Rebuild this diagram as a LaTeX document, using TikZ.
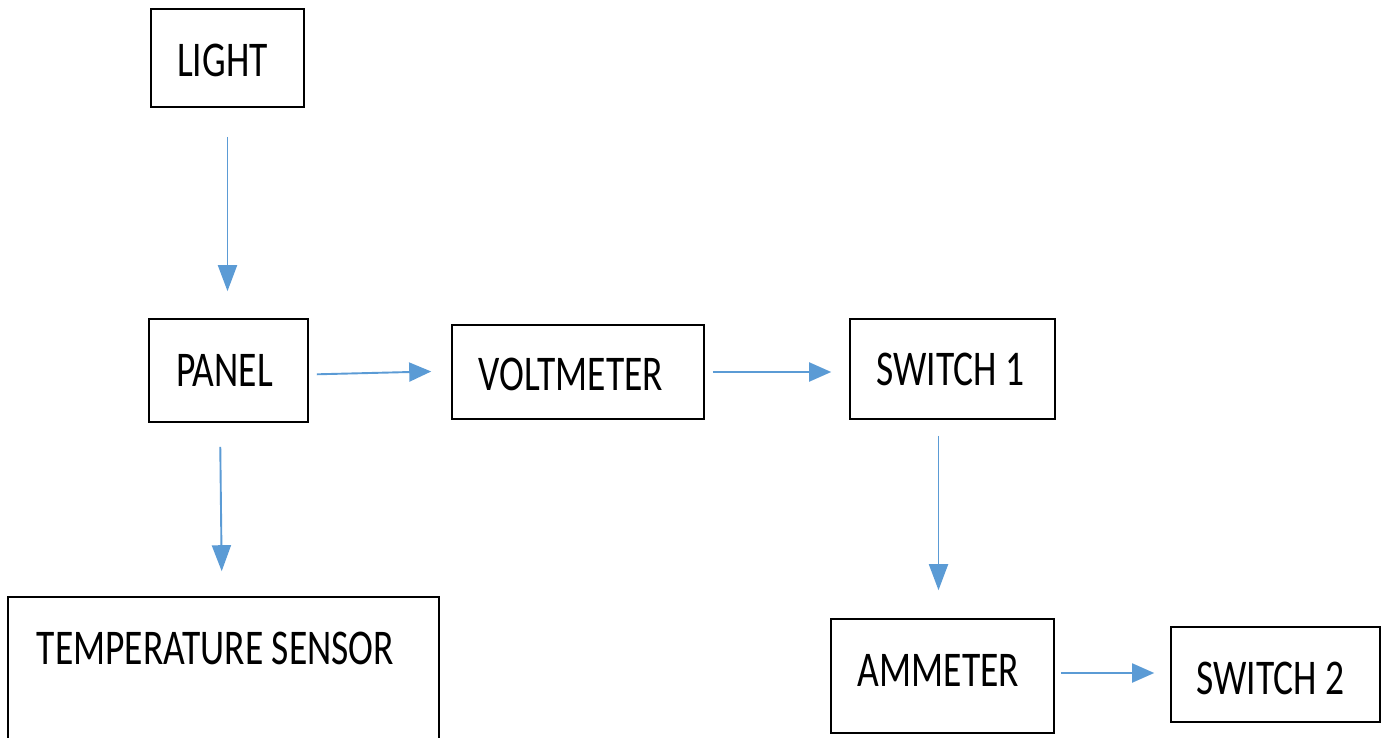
\documentclass[tikz,border=0pt]{standalone}
\usepackage{fontspec}
\usepackage{graphicx}
\setmainfont{Carlito}
\usetikzlibrary{arrows.meta}
\definecolor{arrblue}{HTML}{5B9BD5}
\newcommand{\sq}[1]{\scalebox{0.75}[1]{#1}}
\tikzset{
  box/.style={draw=black, line width=1.6pt, rectangle, inner sep=0pt},
  arr/.style={draw=arrblue, line width=1.9pt, -{Triangle[length=22pt,width=19pt]}},
  varr/.style={draw=arrblue, line width=1.9pt, -{Triangle[length=26pt,width=19pt]}},
  lbl/.style={inner sep=0pt, font=\fontsize{50}{60}\selectfont}
}
\begin{document}
\begin{tikzpicture}[x=1pt,y=-1pt]
\useasboundingbox (0,0) rectangle (1383,738);
\fill[white] (0,0) rectangle (1383,738);
\node[box, minimum width=153pt, minimum height=98pt,
  label={[lbl, xshift=-5pt, yshift=-2pt]center:\sq{LIGHT}}] (light) at (227.5,58) {};
\node[box, minimum width=159pt, minimum height=103pt,
  label={[lbl, xshift=-4pt]center:\sq{PANEL}}] (panel) at (228.5,370.5) {};
\node[box, minimum width=252pt, minimum height=94pt,
  label={[lbl, xshift=-7pt, yshift=-2pt]center:\sq{VOLTMETER}}] (volt) at (578,372) {};
\node[box, minimum width=205pt, minimum height=100pt,
  label={[lbl, xshift=-2pt]center:\sq{SWITCH 1}}] (sw1) at (952.5,369) {};
\node[box, minimum width=223pt, minimum height=114pt,
  label={[lbl, xshift=-4pt, yshift=6pt]center:\sq{AMMETER}}] (amm) at (942.5,676) {};
\node[box, minimum width=209pt, minimum height=95pt,
  label={[lbl, xshift=-5pt, yshift=-4pt]center:\sq{SWITCH 2}}] (sw2) at (1275.5,674.5) {};
\node[box, minimum width=431pt, minimum height=160pt,
  label={[lbl, xshift=-8pt, yshift=29pt]center:\sq{TEMPERATURE SENSOR}}] (temp) at (223.5,677) {};
\draw[varr, shorten <=29pt, shorten >=27pt] (light.south) -- (light.south |- panel.north);
\draw[arr, shorten <=8pt, shorten >=20pt] ([yshift=-4pt]panel.east) -- ([yshift=1pt]volt.west);
\draw[arr, shorten <=8pt, shorten >=18pt] (volt.east) -- (volt.east -| sw1.west);
\draw[varr, shorten <=16pt, shorten >=28pt] ([xshift=-14pt]sw1.south) -- ([xshift=-14pt]sw1.south |- amm.north);
\draw[arr, shorten <=6pt, shorten >=16pt] ([yshift=3pt]amm.east) -- ([yshift=3pt]amm.east -| sw2.west);
\draw[varr, shorten <=24pt, shorten >=25pt] ([xshift=-8.5pt]panel.south) -- ([xshift=-1.5pt]temp.north);
\end{tikzpicture}
\end{document}
